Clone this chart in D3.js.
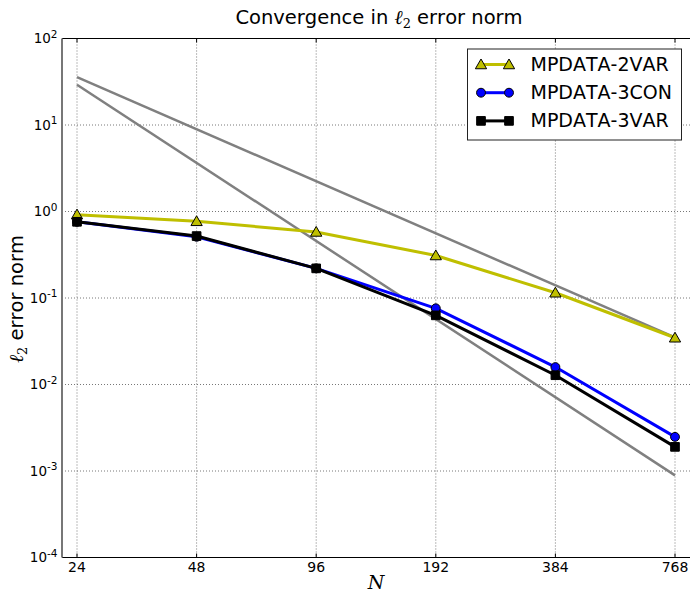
<!DOCTYPE html>
<html>
<head>
<meta charset="utf-8">
<script src="https://cdn.jsdelivr.net/npm/d3@7"></script>
<style>
  body { margin: 0; background: #fff; }
  text { font-family: "DejaVu Sans", sans-serif; fill: #000; font-kerning: none; }
</style>
</head>
<body>
<div id="chart"></div>
<script>
// data
const N = [24, 48, 96, 192, 384, 768];
const mpdata2var = [0.92, 0.77, 0.58, 0.31, 0.115, 0.0347];
const mpdata3con = [0.76, 0.51, 0.22, 0.076, 0.0159, 0.00248];
const mpdata3var = [0.76, 0.52, 0.22, 0.063, 0.0128, 0.0019];
// reference slopes (endpoints only)
const refN = [24, 768];
const ref2 = [35.8, 0.035];
const ref3 = [29.2, 0.00089];
const yTicks = [-4, -3, -2, -1, 0, 1, 2];

const width = 692, height = 594;
const pLeft = 62, pRight = 690, pTop = 38.5, pBottom = 557.5;

const x = d3.scaleLog().base(2).domain([24, 768]).range([77, 675]);
const y = d3.scaleLog().domain([1e-4, 1e2]).range([pBottom, pTop]);

const svg = d3.select('#chart')
  .append('svg')
    .attr('width', width)
    .attr('height', height);

// grid
svg.append('g').selectAll('line')
  .data(N).enter().append('line')
  .attr('x1', (d) => x(d)).attr('x2', (d) => x(d))
  .attr('y1', pTop).attr('y2', pBottom)
  .style('stroke', '#555').style('stroke-width', 0.8)
  .style('stroke-dasharray', '1,2');

svg.append('g').selectAll('line')
  .data(yTicks).enter().append('line')
  .attr('x1', pLeft).attr('x2', pRight)
  .attr('y1', (d) => y(Math.pow(10, d))).attr('y2', (d) => y(Math.pow(10, d)))
  .style('stroke', '#555').style('stroke-width', 0.8)
  .style('stroke-dasharray', '1,2');

// spines
svg.append('line').attr('x1', pLeft).attr('x2', pRight).attr('y1', pTop).attr('y2', pTop)
  .style('stroke', '#000').style('stroke-width', 1);
svg.append('line').attr('x1', pLeft).attr('x2', pRight).attr('y1', pBottom).attr('y2', pBottom)
  .style('stroke', '#000').style('stroke-width', 1);
svg.append('line').attr('x1', pLeft).attr('x2', pLeft).attr('y1', pTop).attr('y2', pBottom)
  .style('stroke', '#777').style('stroke-width', 2);

// tick marks
svg.append('g').selectAll('line')
  .data(N).enter().append('line')
  .attr('x1', (d) => x(d)).attr('x2', (d) => x(d))
  .attr('y1', pBottom).attr('y2', pBottom - 4)
  .style('stroke', '#000');
svg.append('g').selectAll('line')
  .data(N).enter().append('line')
  .attr('x1', (d) => x(d)).attr('x2', (d) => x(d))
  .attr('y1', pTop).attr('y2', pTop + 4)
  .style('stroke', '#000');

// tick labels
svg.append('g').selectAll('text')
  .data(N).enter().append('text')
  .attr('x', (d) => x(d))
  .attr('y', pBottom + 14.8)
  .style('text-anchor', 'middle')
  .style('font-size', '14px')
  .text((d) => d);

const yl = svg.append('g').selectAll('text')
  .data(yTicks).enter().append('text')
  .attr('x', 57.5)
  .attr('y', (d) => y(Math.pow(10, d)) + 4.8)
  .style('text-anchor', 'end')
  .style('font-size', '13.5px');
yl.append('tspan').text('10');
yl.append('tspan')
  .attr('dy', -5.5)
  .style('font-size', '10.5px')
  .text((d) => d);

// reference lines
const line = d3.line().x((d) => x(d[0])).y((d) => y(d[1]));
[ref2, ref3].forEach((r) => {
  svg.append('path')
    .datum(refN.map((n, i) => [n, r[i]]))
    .attr('d', line)
    .style('fill', 'none')
    .style('stroke', '#808080')
    .style('stroke-width', 2.5);
});

const series = [
  {name: 'MPDATA-2VAR', values: mpdata2var, color: '#bfbf00', marker: 'triangle'},
  {name: 'MPDATA-3CON', values: mpdata3con, color: '#0000ff', marker: 'circle'},
  {name: 'MPDATA-3VAR', values: mpdata3var, color: '#000000', marker: 'square'}
];

const symbols = {
  triangle: d3.symbol().type(d3.symbolTriangle).size(55),
  circle: d3.symbol().type(d3.symbolCircle).size(62),
  square: d3.symbol().type(d3.symbolSquare).size(75)
};

function drawMarker(g, s, px, py) {
  g.append('path')
    .attr('d', symbols[s.marker]())
    .attr('transform', 'translate(' + px + ',' + (s.marker === 'triangle' ? py + 1 : py) + ')')
    .style('fill', s.color)
    .style('stroke', '#000')
    .style('stroke-width', 1);
}

series.forEach((s) => {
  const g = svg.append('g');
  g.append('path')
    .datum(N.map((n, i) => [n, s.values[i]]))
    .attr('d', line)
    .style('fill', 'none')
    .style('stroke', s.color)
    .style('stroke-width', 3)
    .style('stroke-linejoin', 'round');
  N.forEach((n, i) => drawMarker(g, s, x(n), y(s.values[i])));
});

// legend
const lg = svg.append('g');
lg.append('rect')
  .attr('x', 467.5).attr('y', 49)
  .attr('width', 214).attr('height', 91)
  .style('fill', '#fff')
  .style('stroke', '#222')
  .style('stroke-width', 1);
series.forEach((s, i) => {
  const ly = 64.5 + i * 28.2;
  const row = lg.append('g');
  row.append('line')
    .attr('x1', 481).attr('x2', 509)
    .attr('y1', ly).attr('y2', ly)
    .style('stroke', s.color)
    .style('stroke-width', 3);
  drawMarker(row, s, 481, ly);
  drawMarker(row, s, 509, ly);
  row.append('text')
    .attr('x', 530.5)
    .attr('y', ly + 6.5)
    .style('font-size', '19px')
    .text(s.name);
});

// title
const title = svg.append('text')
  .attr('x', 379)
  .attr('y', 24)
  .style('text-anchor', 'middle')
  .style('font-size', '19.5px');
title.append('tspan').text('Convergence in ');
title.append('tspan').style('font-family', '"DejaVu Serif", serif').style('font-style', 'italic').text('\u2113');
title.append('tspan').attr('dy', 4).style('font-size', '13px').style('font-family', '"DejaVu Serif", serif').text('2');
title.append('tspan').attr('dy', -4).text(' error norm');

// y label
const ylab = svg.append('text')
  .attr('transform', 'translate(23,299) rotate(-90)')
  .style('text-anchor', 'middle')
  .style('font-size', '19.5px');
ylab.append('tspan').style('font-family', '"DejaVu Serif", serif').style('font-style', 'italic').text('\u2113');
ylab.append('tspan').attr('dy', 4).style('font-size', '13px').style('font-family', '"DejaVu Serif", serif').text('2');
ylab.append('tspan').attr('dy', -4).text(' error norm');

// x label
svg.append('text')
  .attr('x', 376)
  .attr('y', 589)
  .style('text-anchor', 'middle')
  .style('font-family', '"DejaVu Serif", "Liberation Serif", serif')
  .style('font-style', 'italic')
  .style('font-size', '19px')
  .text('N');
</script>
</body>
</html>
